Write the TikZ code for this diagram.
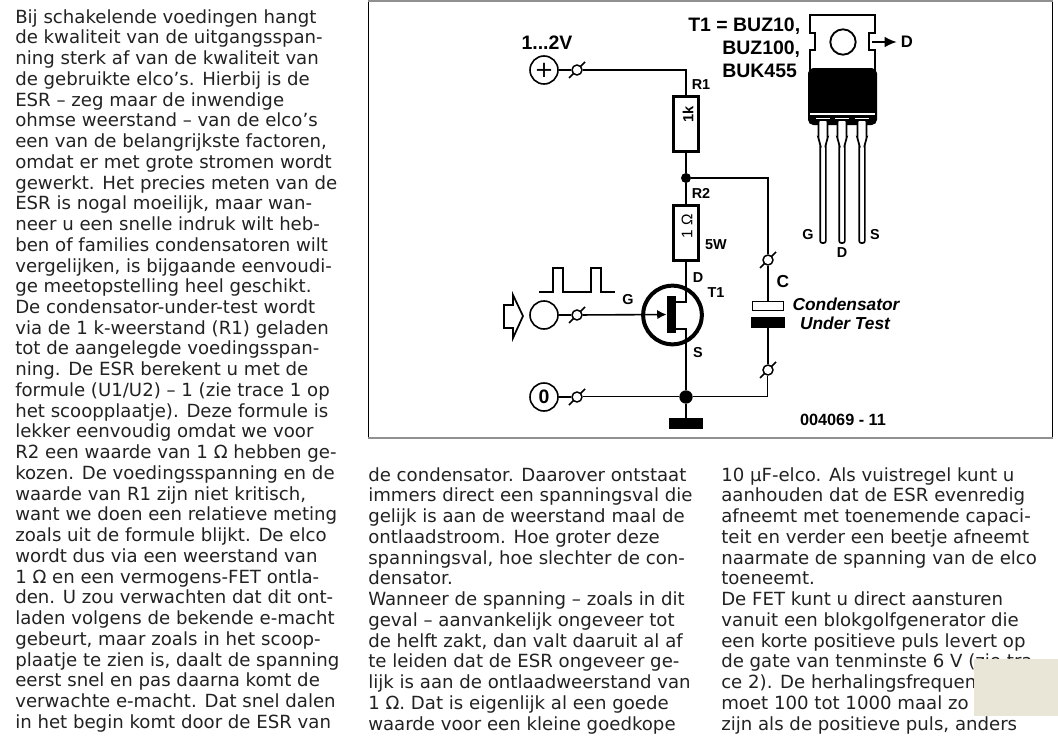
\documentclass[tikz,border=0pt]{standalone}
\usepackage{fontspec}
\setmainfont{DejaVu Sans}
\newfontfamily\labelfont{Liberation Sans}
\usetikzlibrary{arrows.meta}
\definecolor{FrameGrey}{HTML}{909090}
\definecolor{PageText}{HTML}{222222}
\definecolor{PatchBeige}{HTML}{E9E6D8}
\tikzset{
  wire/.style={line width=1.2pt},
  terminal/.style={circle, draw, line width=1.1pt, fill=white, inner sep=0pt, minimum size=7.5pt},
  port/.style={circle, draw, line width=1.2pt, fill=white, inner sep=0pt, minimum size=21pt},
  dot/.style={circle, fill=black, inner sep=0pt, minimum size=7.5pt},
  resistor/.style={rectangle, draw, line width=2.4pt, fill=white, inner sep=0pt, minimum width=18.6pt, minimum height=41.6pt},
  plate/.style={rectangle, draw, line width=1.1pt, inner sep=0pt},
  lbl/.style={inner sep=0pt, font=\labelfont\bfseries\fontsize{10.8}{12}\selectfont},
  biglbl/.style={inner sep=0pt, font=\labelfont\bfseries\fontsize{14.6}{16}\selectfont},
  caplbl/.style={inner sep=0pt, font=\labelfont\bfseries\itshape\fontsize{13}{15}\selectfont},
  column/.style={inner sep=0pt, anchor=north west, align=left, text=PageText,
    font=\fontsize{13.6}{15.56}\selectfont}
}
\begin{document}
\begin{tikzpicture}[x=0.75pt, y=-0.75pt]
\useasboundingbox (0,0) rectangle (1058,739);

% text columns
\node[column] (colA) at (15,9) {Bij schakelende voedingen hangt\\
de kwaliteit van de uitgangsspan-\\
ning sterk af van de kwaliteit van\\
de gebruikte elco’s. Hierbij is de\\
ESR – zeg maar de inwendige\\
ohmse weerstand – van de elco’s\\
een van de belangrijkste factoren,\\
omdat er met grote stromen wordt\\
gewerkt. Het precies meten van de\\
ESR is nogal moeilijk, maar wan-\\
neer u een snelle indruk wilt heb-\\
ben of families condensatoren wilt\\
vergelijken, is bijgaande eenvoudi-\\
ge meetopstelling heel geschikt.\\
De condensator-under-test wordt\\
via de 1 k-weerstand (R1) geladen\\
tot de aangelegde voedingsspan-\\
ning. De ESR berekent u met de\\
formule (U1/U2) – 1 (zie trace 1 op\\
het scoopplaatje). Deze formule is\\
lekker eenvoudig omdat we voor\\
R2 een waarde van 1 Ω hebben ge-\\
kozen. De voedingsspanning en de\\
waarde van R1 zijn niet kritisch,\\
want we doen een relatieve meting\\
zoals uit de formule blijkt. De elco\\
wordt dus via een weerstand van\\
1 Ω en een vermogens-FET ontla-\\
den. U zou verwachten dat dit ont-\\
laden volgens de bekende e-macht\\
gebeurt, maar zoals in het scoop-\\
plaatje te zien is, daalt de spanning\\
eerst snel en pas daarna komt de\\
verwachte e-macht. Dat snel dalen\\
in het begin komt door de ESR van};
\node[column] (colB) at (368,467) {de condensator. Daarover ontstaat\\
immers direct een spanningsval die\\
gelijk is aan de weerstand maal de\\
ontlaadstroom. Hoe groter deze\\
spanningsval, hoe slechter de con-\\
densator.\\
Wanneer de spanning – zoals in dit\\
geval – aanvankelijk ongeveer tot\\
de helft zakt, dan valt daaruit al af\\
te leiden dat de ESR ongeveer ge-\\
lijk is aan de ontlaadweerstand van\\
1 Ω. Dat is eigenlijk al een goede\\
waarde voor een kleine goedkope};
\node[column] (colC) at (721,467) {10 µF-elco. Als vuistregel kunt u\\
aanhouden dat de ESR evenredig\\
afneemt met toenemende capaci-\\
teit en verder een beetje afneemt\\
naarmate de spanning van de elco\\
toeneemt.\\
De FET kunt u direct aansturen\\
vanuit een blokgolfgenerator die\\
een korte positieve puls levert op\\
de gate van tenminste 6 V (zie tra-\\
ce 2). De herhalingsfrequentie\\
moet 100 tot 1000 maal zo\\
zijn als de positieve puls, anders};
\fill[PatchBeige] (974,659) rectangle (1058,716);

% frame
\draw[line width=0.9pt] (368.5,0) -- (368.5,437);
\draw[line width=0.9pt] (1052.5,0) -- (1052.5,437);
\draw[FrameGrey, line width=1.5pt] (368,1) -- (1053,1);
\draw[FrameGrey, line width=1.5pt] (368,437.5) -- (1053,437.5);

% terminals
\foreach \x/\y/\name in {577/70/tPlus, 577/315/tGate, 577/397/tZero, 768/260/tCapA, 768/370/tCapB} {
  \draw[wire] (\x-8,\y+8) -- (\x+8,\y-8);
  \node[terminal] (\name) at (\x,\y) {};
}

% ports
\node[port] (pPlus) at (544,70) {\fontsize{17}{17}\selectfont +};
\node[port] (pGate) at (544,315) {};
\node[port, font=\labelfont\bfseries\fontsize{14.6}{16}\selectfont] (pZero) at (544,397) {0};
\node[biglbl] (lVolt) at (547,43) {1...2V};
\draw[line width=1.3pt] (504,305) -- (513,305) -- (513,295) -- (523,316) -- (513,338) -- (513,328) -- (504,328) -- cycle;
\draw[line width=1.7pt] (539,292) -- (553,292) -- (553,268) -- (563,268) -- (563,292) -- (591,292) -- (591,268) -- (601,268) -- (601,292) -- (615,292);

% resistors and junctions
\node[resistor] (R1) at (686,124) {};
\node[resistor] (R2) at (686,233) {};
\node[rotate=90, inner sep=0pt, font=\labelfont\bfseries\fontsize{11}{12}\selectfont] (vR1) at (688,114) {1k};
\node[rotate=90, inner sep=0pt, font=\labelfont\fontsize{11.5}{12}\selectfont] (vR2) at (687,226) {1 Ω};
\node[dot] (jTop) at (686,178) {};
\node[dot, minimum size=10pt] (jGnd) at (686,397) {};
\node[rectangle, fill=black, inner sep=0pt, minimum width=25.5pt, minimum height=8pt] (gnd) at (686,423.5) {};

% transistor
\node[circle, draw, line width=3pt, inner sep=0pt, minimum size=44pt] (fet) at (672.5,315) {};
\node[rectangle, fill=black, inner sep=0pt, minimum width=7pt, minimum height=28pt] (chan) at (671.5,314.5) {};
\coordinate (drainTap) at (676,302);
\coordinate (sourceTap) at (676,329);

% capacitor
\node[plate, fill=white, minimum width=23pt, minimum height=7pt] (capTop) at (768,306) {};
\node[rectangle, fill=black, inner sep=0pt, minimum width=25.5pt, minimum height=8pt] (capBot) at (768,322.5) {};

% wires
\draw[wire] (pPlus) -- (tPlus);
\draw[wire] (tPlus) -- (686,70) -- (R1.north);
\draw[wire] (R1.south) -- (jTop);
\draw[wire] (jTop) -- (R2.north);
\draw[wire] (jTop) -| (tCapA);
\draw[wire] (tCapA) -- (capTop);
\draw[wire] (capBot) -- (tCapB);
\draw[wire] (R2.south) |- (drainTap);
\draw[wire] (sourceTap) -| (jGnd);
\draw[wire] (jGnd) -- (gnd);
\draw[wire] (pGate) -- (tGate);
\draw[wire, -{Latex[length=7pt,width=7pt]}] (tGate) -- (chan);
\draw[wire] (pZero) -- (tZero);
\draw[double, double distance=0.3pt, line width=0.7pt] (tZero) -- (jGnd);
\draw[double, double distance=0.3pt, line width=0.7pt] (jGnd) -| (tCapB);

% package
\draw[line width=1.5pt, fill=white] (810,15) -- (875,15) -- (875,33) -- (869,33) -- (869,50) -- (875,50) -- (875,70) -- (810,70) -- (810,50) -- (815,50) -- (815,33) -- (810,33) -- cycle;
\node[circle, draw, line width=1.4pt, inner sep=0pt, minimum size=19pt] (hole) at (843,42) {};
\fill[black, rounded corners=4pt] (808,68) rectangle (877,125);
\fill[white] (810,113) rectangle (875,115);
\foreach \x in {823,842,862} {
  \draw[white, line width=0.4pt] (\x-7,118) -- (\x+7,118);
  \draw[line width=1.2pt, fill=white, rounded corners=1.5pt] (\x-4.5,120) -- (\x+4.5,120) -- (\x+4.5,140) -- (\x+2.8,143) -- (\x+2.8,243) -- (\x-2.8,243) -- (\x-2.8,143) -- (\x-4.5,140) -- cycle;
}
\coordinate (tabD) at (872,42);
\node[lbl, font=\labelfont\bfseries\fontsize{12.5}{14}\selectfont] (pinD) at (907,42) {D};
\draw[wire, -{Latex[length=9pt,width=8pt]}] (tabD) -- ([xshift=-3pt]pinD.west);

% labels
\node[biglbl, anchor=west] (lTa) at (688,26) {T1 = BUZ10,};
\node[biglbl, anchor=west] (lTb) at (722,49) {BUZ100,};
\node[biglbl, anchor=west] (lTc) at (722,71) {BUK455};
\node[lbl] (lR1) at (701,85) {R1};
\node[lbl] (lR2) at (701,193) {R2};
\node[lbl] (l5W) at (716,245) {5W};
\node[lbl] (lD) at (698,278) {D};
\node[lbl] (lT1) at (716,293) {T1};
\node[lbl] (lG) at (628,300) {G};
\node[lbl] (lS) at (698,353) {S};
\node[lbl, font=\labelfont\bfseries\fontsize{13}{15}\selectfont] (lC) at (783,282) {C};
\node[lbl] (lpG) at (808,235) {G};
\node[lbl] (lpD) at (842,253) {D};
\node[lbl] (lpS) at (875,235) {S};
\node[caplbl] (lCa) at (846,304) {Condensator};
\node[caplbl] (lCb) at (845,323) {Under Test};
\node[lbl, font=\labelfont\bfseries\fontsize{12.2}{14}\selectfont] (lCode) at (843,420) {004069 - 11};
\end{tikzpicture}
\end{document}
